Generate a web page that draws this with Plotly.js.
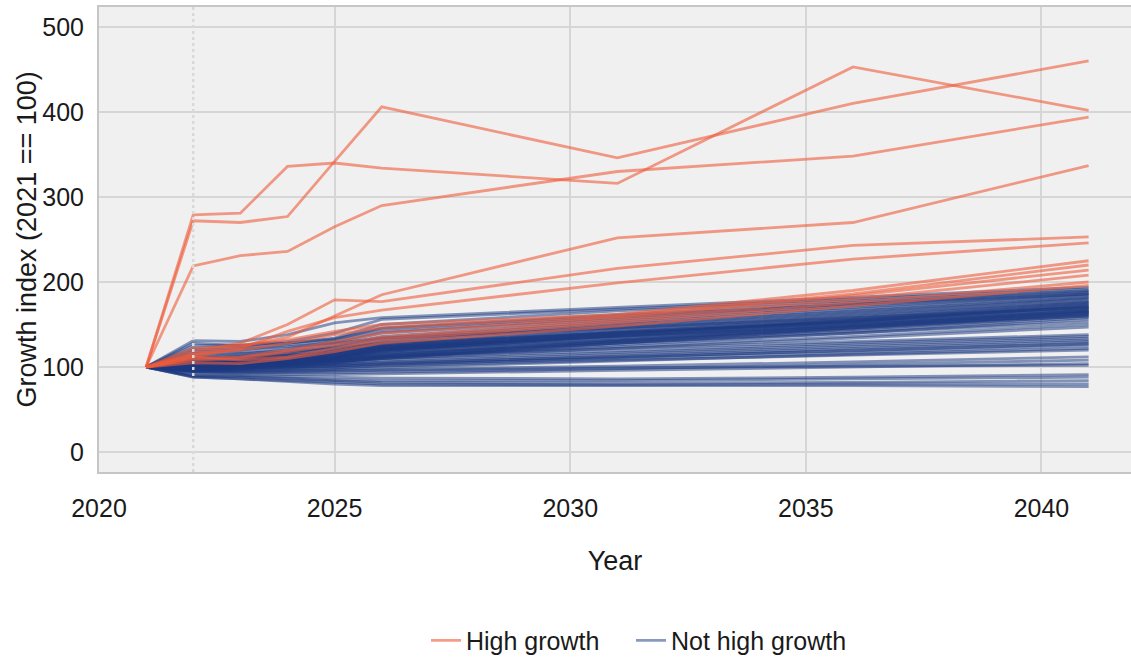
<!DOCTYPE html>
<html>
<head>
<meta charset="utf-8">
<script src="https://cdn.plot.ly/plotly-3.0.1.min.js"></script>
<style>html,body{margin:0;padding:0;background:#fff;}#chart{width:1131px;height:657px;}</style>
</head>
<body>
<div id="chart"></div>
<script>
const years = [2021, 2022, 2023, 2024, 2025, 2026, 2031, 2036, 2041];

const highGrowth = [
  [100, 279, 281, 336, 340, 334, 316, 453, 402],
  [100, 272, 270, 277, 342, 406, 346, 410, 460],
  [100, 219, 231, 236, 265, 290, 330, 348, 394],
  [100, 115, 125, 135, 160, 185, 252, 270, 337],
  [100, 118, 128, 150, 179, 177, 216, 243, 253],
  [100, 112, 122, 142, 158, 167, 199, 227, 246],
  [100, 122, 125, 132, 142, 150, 162, 190, 225],
  [100, 115, 120, 128, 138, 146, 160, 186, 220],
  [100, 110, 112, 120, 130, 140, 158, 184, 214],
  [100, 108, 110, 118, 126, 135, 155, 180, 208],
  [100, 112, 108, 112, 122, 132, 152, 176, 200],
  [100, 105, 104, 110, 118, 128, 148, 172, 196]
];

const notHighGrowth = [
  [100, 131, 130, 138, 152, 158, 170, 182, 194],
  [100, 128, 125, 130, 140, 156, 168, 180, 192],
  [100, 122, 124, 128, 134, 150, 166, 178, 190],
  [100, 118, 120, 126, 132, 146, 162, 176, 189],
  [100, 116, 118, 122, 130, 142, 158, 174, 188],
  [100, 112, 115, 120, 128, 140, 156, 172, 186],
  [100, 110, 113, 118, 125, 136, 154, 170, 185],
  [100, 108, 112, 116, 124, 134, 152, 168, 184],
  [100, 106, 110, 115, 122, 132, 150, 166, 182],
  [100, 105, 108, 113, 120, 130, 149, 165, 181],
  [100, 104, 107, 112, 119, 128, 147, 163, 180],
  [100, 103, 106, 110, 117, 126, 146, 162, 178],
  [100, 102, 105, 109, 116, 125, 144, 160, 177],
  [100, 101, 104, 108, 114, 123, 143, 159, 176],
  [100, 100, 103, 107, 113, 122, 141, 157, 175],
  [100, 99, 102, 106, 112, 120, 140, 156, 174],
  [100, 98, 101, 105, 111, 119, 138, 155, 173],
  [100, 97, 100, 104, 110, 118, 137, 153, 172],
  [100, 103, 105, 107, 112, 121, 139, 154, 171],
  [100, 105, 107, 110, 115, 124, 141, 155, 170],
  [100, 107, 109, 112, 117, 126, 140, 153, 169],
  [100, 104, 106, 109, 114, 122, 137, 152, 168],
  [100, 102, 104, 107, 112, 120, 135, 150, 167],
  [100, 101, 103, 106, 110, 118, 134, 149, 166],
  [100, 99, 101, 104, 108, 116, 132, 148, 165],
  [100, 98, 100, 103, 107, 114, 131, 147, 164],
  [100, 96, 98, 101, 105, 112, 130, 146, 163],
  [100, 95, 97, 100, 104, 110, 128, 145, 162],
  [100, 110, 112, 114, 118, 124, 136, 150, 164],
  [100, 114, 116, 118, 122, 128, 140, 152, 166],
  [100, 120, 122, 124, 128, 134, 146, 158, 170],
  [100, 125, 126, 128, 133, 145, 160, 174, 186],
  [100, 108, 110, 113, 117, 123, 136, 148, 161],
  [100, 103, 104, 106, 110, 116, 130, 144, 160],
  [100, 101, 102, 104, 108, 113, 128, 142, 158],
  [100, 99, 100, 102, 106, 111, 126, 140, 156],
  [100, 104, 105, 107, 110, 115, 128, 140, 153],
  [100, 102, 103, 105, 108, 112, 124, 136, 150],
  [100, 100, 101, 103, 106, 110, 122, 134, 147],
  [100, 106, 108, 110, 114, 120, 132, 146, 160],
  [100, 104, 105, 106, 109, 113, 122, 130, 138],
  [100, 102, 103, 104, 107, 110, 119, 128, 136],
  [100, 100, 101, 102, 104, 108, 117, 126, 134],
  [100, 98, 99, 100, 102, 106, 115, 124, 132],
  [100, 97, 98, 99, 101, 104, 113, 122, 130],
  [100, 96, 96, 97, 99, 102, 111, 120, 128],
  [100, 99, 99, 100, 101, 103, 110, 117, 125],
  [100, 95, 95, 96, 97, 99, 107, 115, 122],
  [100, 97, 97, 98, 99, 101, 108, 114, 120],
  [100, 101, 101, 102, 103, 105, 112, 119, 127],
  [100, 96, 95, 95, 96, 97, 101, 106, 112],
  [100, 94, 93, 93, 93, 94, 98, 103, 108],
  [100, 93, 92, 91, 91, 92, 96, 100, 104],
  [100, 95, 94, 94, 95, 96, 99, 101, 102],
  [100, 91, 90, 89, 88, 87, 86, 88, 91],
  [100, 90, 89, 87, 85, 84, 84, 86, 88],
  [100, 89, 88, 86, 84, 82, 81, 82, 84],
  [100, 88, 86, 84, 82, 80, 79, 80, 80],
  [100, 88, 86, 83, 80, 78, 78, 78, 77]
];

const groupNames = ['High growth', 'Not high growth'];
const xTickVals = [2020, 2025, 2030, 2035, 2040];
const yTickVals = [0, 100, 200, 300, 400, 500];

const highColor = 'rgba(238,92,58,0.6)';
const notHighColor = 'rgba(28,58,128,0.52)';

const traces = [];
notHighGrowth.forEach((vals, i) => {
  traces.push({
    x: years, y: vals, type: 'scatter', mode: 'lines',
    name: groupNames[1], legendgroup: 'nh', showlegend: i === 0, legend: 'legend2',
    line: {color: notHighColor, width: 2.8}, hoverinfo: 'skip'
  });
});
highGrowth.forEach((vals, i) => {
  traces.push({
    x: years, y: vals, type: 'scatter', mode: 'lines',
    name: groupNames[0], legendgroup: 'hg', showlegend: i === 0, legend: 'legend',
    line: {color: highColor, width: 2.8}, hoverinfo: 'skip'
  });
});

const font = 'Liberation Sans, Arial, Helvetica, sans-serif';
const ink = '#1a1a1a';
const legendBase = {
  orientation: 'h', xref: 'container', xanchor: 'left',
  yref: 'container', y: 0.025, yanchor: 'middle',
  font: {family: font, size: 25, color: ink}, bgcolor: 'rgba(0,0,0,0)'
};

const layout = {
  width: 1131, height: 657,
  margin: {l: 99, r: 0, t: 7, b: 185},
  paper_bgcolor: '#ffffff',
  plot_bgcolor: '#f0f0f0',
  font: {family: font, size: 25, color: ink},
  showlegend: true,
  legend: Object.assign({}, legendBase, {x: 426 / 1131}),
  legend2: Object.assign({}, legendBase, {x: 631 / 1131}),
  xaxis: {
    range: [2020, 2041.9],
    tickvals: xTickVals, ticktext: xTickVals.map(String),
    showgrid: true, gridcolor: '#d6d6d6', gridwidth: 2,
    zeroline: false, ticks: '', ticklabelstandoff: 13,
    showline: true, mirror: true, linecolor: '#c6c6c6', linewidth: 2,
    tickfont: {family: font, size: 25, color: ink},
    title: {text: 'Year', font: {family: font, size: 27, color: ink}, standoff: 30},
    automargin: false
  },
  yaxis: {
    range: [-23.5, 523.5],
    tickvals: yTickVals, ticktext: yTickVals.map(String),
    showgrid: true, gridcolor: '#d6d6d6', gridwidth: 2,
    zeroline: false, ticks: '', ticklabelstandoff: 8,
    showline: true, mirror: true, linecolor: '#c6c6c6', linewidth: 2,
    tickfont: {family: font, size: 25, color: ink},
    automargin: false
  },
  annotations: [{
    text: 'Growth index (2021 == 100)', xref: 'paper', yref: 'paper',
    x: -0.0698, y: 0.5, xanchor: 'center', yanchor: 'middle', textangle: -90,
    showarrow: false, font: {family: font, size: 27, color: ink}
  }],
  shapes: [{
    type: 'line', xref: 'x', yref: 'paper', x0: 2022, x1: 2022, y0: 0, y1: 1,
    line: {color: '#d9d9d9', width: 2.5, dash: 'dot'}, layer: 'above'
  }]
};

Plotly.newPlot('chart', traces, layout, {displayModeBar: false, staticPlot: true});
</script>
</body>
</html>
